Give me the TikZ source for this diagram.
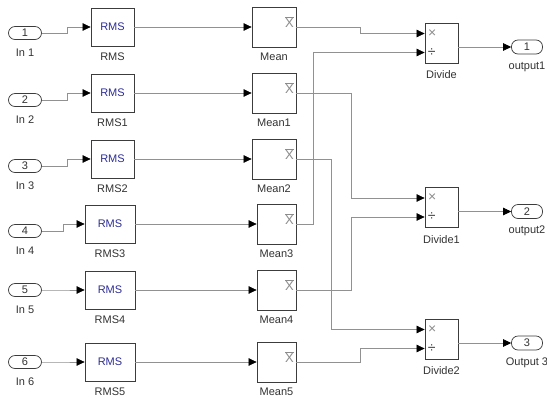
\documentclass[tikz,border=0pt]{standalone}
\usepackage{fontspec}
\setmainfont{Liberation Sans}
\usetikzlibrary{arrows.meta, positioning}
\definecolor{sigline}{RGB}{145,145,145}
\definecolor{blkframe}{RGB}{60,60,60}
\definecolor{rmsblue}{RGB}{45,45,150}
\definecolor{lbltext}{RGB}{50,50,50}
\definecolor{symgray}{RGB}{140,140,140}
\newcommand{\blkfont}{\fontsize{11}{13}\selectfont}
\newcommand{\symfont}{\fontsize{13}{15}\selectfont}
\newcommand{\opfont}{\fontsize{14}{16}\selectfont}
\tikzset{
  port/.style={draw=blkframe, fill=white, rounded corners=6.5pt, minimum width=33pt,
    minimum height=13pt, inner sep=0pt, font=\blkfont, text=lbltext, line width=0.7pt},
  blk/.style={draw=blkframe, fill=white, minimum height=38pt, inner sep=0pt,
    line width=0.8pt, font=\blkfont},
  lbl/.style={font=\blkfont, text=lbltext, inner sep=0pt},
  sig/.style={draw=sigline, line width=0.6pt, -{Triangle[black, length=8pt, width=7.5pt]}},
  wire/.style={draw=sigline, line width=0.6pt}
}
\begin{document}
\begin{tikzpicture}[x=1pt, y=-1pt]
  \useasboundingbox (0,0) rectangle (547,400);
  % Inports, RMS and Mean blocks, one row each
  \foreach \i/\sfx/\y/\py/\rx/\rw/\mx/\mw/\dx in {
      1//27/33/112.5/43/274/44/25,
      2/1/93/100/112.5/43/274/44/25,
      3/2/159/166/112.5/43/274/44/25,
      4/3/224/231/110/50/276.5/39/21,
      5/4/290/290/110/50/276.5/39/21,
      6/5/362/362/110/50/276.5/39/21} {
    \node[port, label={[lbl, label distance=9pt]below:In \i}] (in\i) at (25,\py) {\i};
    \node[blk, minimum width=\rw pt, text=rmsblue,
      label={[lbl, label distance=6pt]below:RMS\sfx}] (rms\i) at (\rx,\y) {RMS};
    \node[blk, minimum width=\mw pt, minimum height=40pt,
      label={[lbl, label distance=5pt]below:Mean\sfx}] (mean\i) at (\mx,\y) {};
    \node[font=\symfont, text=symgray, inner sep=0pt]
      at ([xshift=-7pt, yshift=-15pt]mean\i.north east) {$\overline{\mbox{X}}$};
    \draw[sig] (in\i.east) -- ++(\dx,0) |- (rms\i.west);
    \draw[sig] (rms\i.east) -- (mean\i.west);
  }

  % Divide blocks and outports
  \foreach \k/\sfx/\y/\olbl in {1//43/output1, 2/1/207.5/output2, 3/2/339/Output 3} {
    \node[blk, minimum width=33pt, minimum height=40pt,
      label={[lbl, label distance=7pt]below:Divide\sfx}] (div\k) at (441.5,\y) {};
    \coordinate (div\k a) at ([yshift=9.5pt]div\k.west);
    \coordinate (div\k b) at ([yshift=-9.5pt]div\k.west);
    \node[font=\opfont, text=symgray, inner sep=0pt] at ([xshift=7.5pt]div\k a) {×};
    \node[font=\opfont, text=blkframe, inner sep=0pt] at ([xshift=7pt]div\k b) {÷};
    \node[port, minimum width=31pt, minimum height=14pt,
      label={[lbl, label distance=7pt]below:\olbl}] (out\k) at (527,\y+4) {\k};
    \draw[sig] ([yshift=-4pt]div\k.east) -- (out\k.west);
  }

  % Routing from the Mean blocks to the dividers
  \draw[sig] (mean1.east) -- ++(64,0) |- (div1a);
  \draw[sig] (mean4.east) -- ++(17,0) |- (div1b);
  \draw[sig] (mean2.east) -- ++(55,0) |- (div2a);
  \draw[sig] (mean5.east) -- ++(55,0) |- (div2b);
  \draw[sig] (mean3.east) -- ++(35,0) |- (div3a);
  \draw[sig] (mean6.east) -- ++(64,0) |- (div3b);
\end{tikzpicture}
\end{document}
